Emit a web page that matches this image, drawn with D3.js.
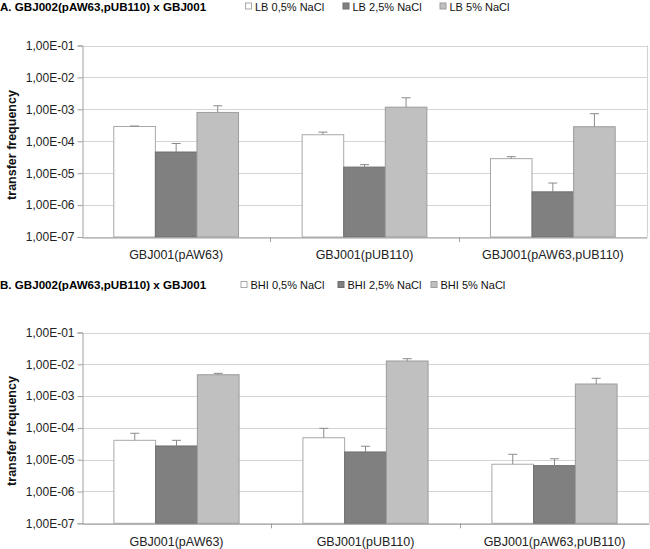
<!DOCTYPE html>
<html>
<head>
<meta charset="utf-8">
<script src="https://cdn.jsdelivr.net/npm/d3@7"></script>
<style>
  html, body { margin: 0; padding: 0; background: #fff; }
  svg { display: block; font-family: "Liberation Sans", Arial, sans-serif; }
</style>
</head>
<body>
<svg id="chart" width="650" height="549"></svg>
<script>
// ---- data ----
const categories = ["GBJ001(pAW63)", "GBJ001(pUB110)", "GBJ001(pAW63,pUB110)"];
const tickValues = [1e-1, 1e-2, 1e-3, 1e-4, 1e-5, 1e-6, 1e-7];
const tickLabels = ["1,00E-01", "1,00E-02", "1,00E-03", "1,00E-04", "1,00E-05", "1,00E-06", "1,00E-07"];

const titleA = "A. GBJ002(pAW63,pUB110) x GBJ001";
const seriesA = ["LB 0,5% NaCl", "LB 2,5% NaCl", "LB 5% NaCl"];
const valuesA_low = [2.9e-4, 1.6e-4, 2.85e-5];
const valuesA_mid = [4.6e-5, 1.55e-5, 2.6e-6];
const valuesA_high = [8.0e-4, 1.17e-3, 2.85e-4];
const errorsA_low = [1.0e-5, 3.3e-5, 4.3e-6];
const errorsA_mid = [3.9e-5, 3.0e-6, 2.3e-6];
const errorsA_high = [4.9e-4, 1.13e-3, 4.45e-4];

const titleB = "B. GBJ002(pAW63,pUB110) x GBJ001";
const seriesB = ["BHI 0,5% NaCl", "BHI 2,5% NaCl", "BHI 5% NaCl"];
const valuesB_low = [4.07e-5, 4.9e-5, 7.2e-6];
const valuesB_mid = [2.7e-5, 1.75e-5, 6.5e-6];
const valuesB_high = [4.7e-3, 1.27e-2, 2.4e-3];
const errorsB_low = [2.7e-5, 4.8e-5, 7.6e-6];
const errorsB_mid = [1.37e-5, 9.0e-6, 4.2e-6];
const errorsB_high = [5.0e-4, 2.3e-3, 1.23e-3];

const yAxisTitle = "transfer frequency";

// ---- styles ----
const fills = ["#ffffff", "#808080", "#c0c0c0"];
const strokes = ["#a8a8a8", "#6e6e6e", "#9c9c9c"];
const gridColor = "#d4d4d4";
const axisColor = "#a0a0a0";
const errColor = "#8a8a8a";

const svg = d3.select("#chart");

function drawPanel(cfg) {
  const { top, bottom, left, right, title, series, values, errors,
          titleY, legendY, legendX, labelY, yTitleY } = cfg;
  const g = svg.append("g");

  const x0 = d3.scaleBand().domain(categories).range([left, right]).padding(0);
  const x1 = d3.scaleBand().domain(d3.range(series.length))
      .range([0, x0.bandwidth()]).paddingInner(0).paddingOuter(0.765);
  const y = d3.scaleLog().domain([1e-7, 1e-1]).range([bottom, top]);

  // gridlines
  g.append("g").selectAll("line").data(tickValues).join("line")
    .attr("x1", left).attr("x2", right)
    .attr("y1", d => Math.round(y(d)) + 0.5).attr("y2", d => Math.round(y(d)) + 0.5)
    .attr("stroke", gridColor).attr("stroke-width", 1.2);

  // right border
  g.append("line").attr("x1", right + 0.5).attr("x2", right + 0.5)
    .attr("y1", top).attr("y2", bottom)
    .attr("stroke", gridColor).attr("stroke-width", 1.2);

  // y axis
  const yAxis = d3.axisLeft(y).tickValues(tickValues)
    .tickFormat((d, i) => tickLabels[i]).tickSize(5).tickPadding(3);
  const ya = g.append("g").attr("transform", `translate(${left + 0.5},0)`).call(yAxis);
  ya.select(".domain").attr("stroke", axisColor);
  ya.selectAll(".tick line").attr("stroke", axisColor);
  ya.selectAll(".tick text").attr("font-size", 12).attr("fill", "#222")
    .attr("font-family", "'Liberation Sans', Arial, sans-serif");

  // bars
  series.forEach((s, si) => {
    g.append("g").selectAll("rect").data(categories).join("rect")
      .attr("x", c => x0(c) + x1(si))
      .attr("width", x1.bandwidth())
      .attr("y", (c, ci) => y(values[si][ci]))
      .attr("height", (c, ci) => bottom - y(values[si][ci]))
      .attr("fill", fills[si]).attr("stroke", strokes[si]).attr("stroke-width", 1);
  });

  // error bars (upper only)
  series.forEach((s, si) => {
    const eg = g.append("g");
    categories.forEach((c, ci) => {
      const cx = x0(c) + x1(si) + x1.bandwidth() / 2;
      const y0 = y(values[si][ci]);
      const y1v = y(values[si][ci] + errors[si][ci]);
      eg.append("line").attr("x1", cx).attr("x2", cx).attr("y1", y0).attr("y2", y1v)
        .attr("stroke", errColor).attr("stroke-width", 1);
      eg.append("line").attr("x1", cx - 4.5).attr("x2", cx + 4.5).attr("y1", y1v).attr("y2", y1v)
        .attr("stroke", errColor).attr("stroke-width", 1);
    });
  });

  // x axis baseline and category ticks
  const xAxis = d3.axisBottom(x0).tickSize(0).tickPadding(13);
  const xa = g.append("g").attr("transform", `translate(0,${bottom + 0.5})`).call(xAxis);
  xa.select(".domain").attr("stroke", axisColor);
  xa.selectAll(".tick text").attr("font-size", 12.5).attr("fill", "#222")
    .attr("font-family", "'Liberation Sans', Arial, sans-serif");
  g.append("g").selectAll("line").data(categories.slice(1)).join("line")
    .attr("x1", c => Math.round(x0(c)) + 0.5).attr("x2", c => Math.round(x0(c)) + 0.5)
    .attr("y1", bottom).attr("y2", bottom + 5)
    .attr("stroke", axisColor);

  // y axis title
  g.append("text")
    .attr("transform", `translate(16,${yTitleY}) rotate(-90)`)
    .attr("text-anchor", "middle")
    .attr("font-size", 12.5).attr("font-weight", "bold").attr("fill", "#111")
    .text(yAxisTitle);

  // panel title
  g.append("text").attr("x", 0).attr("y", titleY)
    .attr("font-size", 11.6).attr("font-weight", "bold").attr("fill", "#000")
    .text(title);

  // legend
  series.forEach((s, si) => {
    const lx = legendX[si];
    g.append("rect").attr("x", lx + 0.5).attr("y", legendY - 7.5).attr("width", 6).attr("height", 6)
      .attr("fill", fills[si]).attr("stroke", strokes[si]).attr("stroke-width", 1);
    g.append("text").attr("x", lx + 10).attr("y", legendY)
      .attr("font-size", 11).attr("fill", "#111")
      .text(s);
  });
}

drawPanel({
  top: 45.5, bottom: 237, left: 82, right: 647,
  title: titleA, series: seriesA,
  values: [valuesA_low, valuesA_mid, valuesA_high],
  errors: [errorsA_low, errorsA_mid, errorsA_high],
  titleY: 10.5, legendY: 10.5, legendX: [245, 342.5, 439.5],
  yTitleY: 145
});

drawPanel({
  top: 332.5, bottom: 523.3, left: 82, right: 649,
  title: titleB, series: seriesB,
  values: [valuesB_low, valuesB_mid, valuesB_high],
  errors: [errorsB_low, errorsB_mid, errorsB_high],
  titleY: 289, legendY: 289, legendX: [240.5, 337.5, 430.5],
  yTitleY: 431
});
</script>
</body>
</html>
